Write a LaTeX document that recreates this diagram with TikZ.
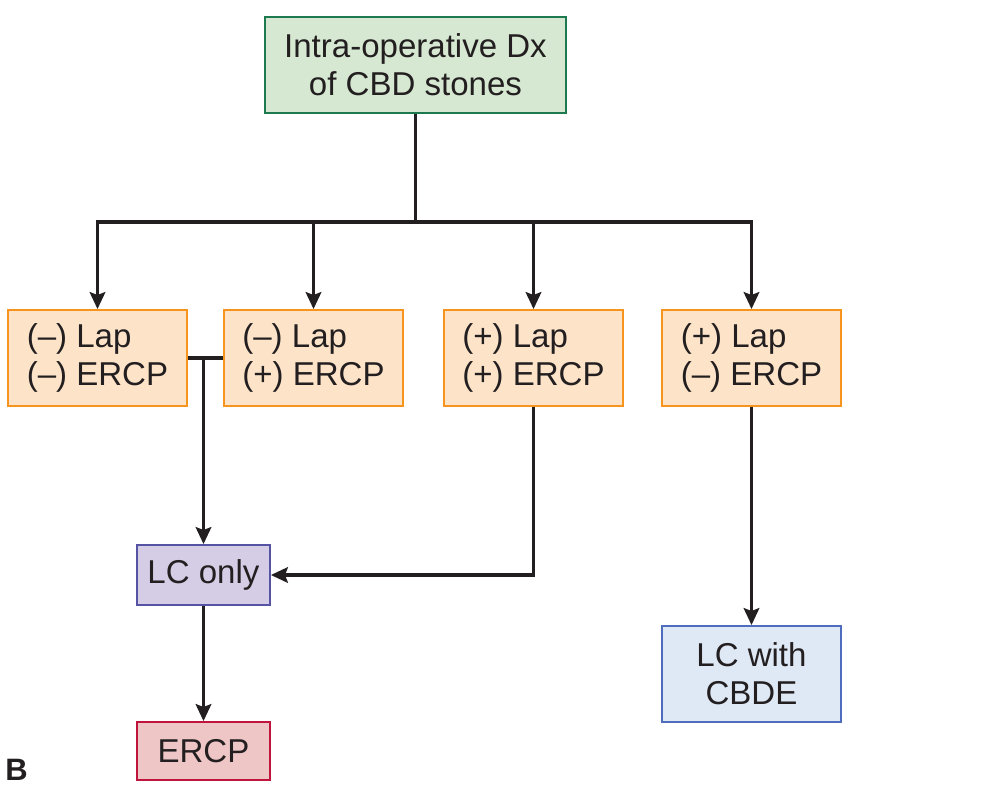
\documentclass[tikz,border=0pt]{standalone}
\usepackage{fontspec}
\setmainfont{Liberation Sans}
\usepackage{tikz}
\usetikzlibrary{arrows.meta,calc,positioning}
\definecolor{dxink}{HTML}{231F20}
\definecolor{dxgreenfill}{HTML}{D6E8D2}
\definecolor{dxgreen}{HTML}{1C7A4E}
\definecolor{dxorangefill}{HTML}{FDE4C9}
\definecolor{dxorange}{HTML}{F7941D}
\definecolor{dxpurplefill}{HTML}{D5CDE6}
\definecolor{dxpurple}{HTML}{5653A5}
\definecolor{dxredfill}{HTML}{EFC6C6}
\definecolor{dxred}{HTML}{C1143C}
\definecolor{dxbluefill}{HTML}{DFE8F5}
\definecolor{dxblue}{HTML}{4F6DBE}

\begin{document}
\begin{tikzpicture}[x=0.025cm,y=-0.025cm,line join=miter,
  text=dxink,font=\fontsize{23.5}{27}\selectfont,
  box/.style={draw,line width=1.3pt,inner sep=0pt,align=center},
  dxbox/.style={box,draw=dxgreen,fill=dxgreenfill,minimum width=7.525cm,minimum height=2.4cm},
  labbox/.style={box,draw=dxorange,fill=dxorangefill,align=left,minimum width=4.475cm,minimum height=2.4cm},
  lcbox/.style={box,draw=dxpurple,fill=dxpurplefill,minimum width=3.325cm,minimum height=1.5cm},
  ercpbox/.style={box,draw=dxred,fill=dxredfill,minimum width=3.325cm,minimum height=1.45cm},
  cbdebox/.style={box,draw=dxblue,fill=dxbluefill,minimum width=4.475cm,minimum height=2.4cm},
  ln/.style={draw=dxink,line width=2.6pt},
  arr/.style={ln,-{Stealth[length=12pt,width=11pt,inset=2pt]}}]
\path[use as bounding box] (0,0) rectangle (1002,785);
\fill[white] (0,0) rectangle (1002,785);

% boxes (pixel grid, y down)
\node[dxbox] (dx) at (415.5,65) {Intra-operative Dx\\of CBD stones};
\node[labbox] (lap1) at (97.5,358) {(–) Lap\\(–) ERCP};
\node[labbox] (lap2) at (313.5,358) {(–) Lap\\(+) ERCP};
\node[labbox] (lap3) at (533.5,358) {(+) Lap\\(+) ERCP};
\node[labbox] (lap4) at (751.5,358) {(+) Lap\\(–) ERCP};
\node[lcbox] (lco) at (203.5,575) {LC only};
\node[ercpbox] (ercp) at (203.5,751) {ERCP};
\node[cbdebox] (cbde) at (751.5,674) {LC with\\CBDE};
\node[font=\fontsize{22}{24}\selectfont\bfseries,anchor=base west,inner sep=0pt] (panel) at (5,780) {B};

% connectors
\coordinate (split) at (415.5,222);
\draw[ln] (dx.south) -- (split);
\foreach \n in {lap1,lap2,lap3,lap4}
  \draw[arr] (split) -| (\n.north);
\draw[ln] (lap1.east) -- (lap2.west);
\coordinate (join) at (lap1.east -| lco.north);
\draw[arr] (join) -- (lco.north);
\draw[arr] (lap3.south) |- (lco.east);
\draw[arr] (lco.south) -- (ercp.north);
\draw[arr] (lap4.south) -- (cbde.north);
\end{tikzpicture}
\end{document}
